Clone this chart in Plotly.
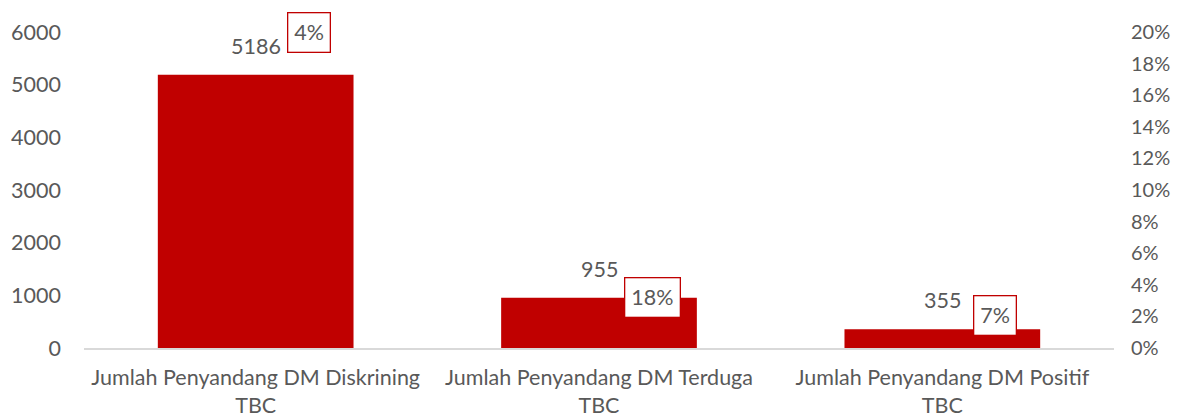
import plotly.graph_objects as go

categories = ["Jumlah Penyandang DM Diskrining<br>TBC",
              "Jumlah Penyandang DM Terduga<br>TBC",
              "Jumlah Penyandang DM Positif<br>TBC"]
counts = [5186, 955, 355]
percent_labels = ["4%", "18%", "7%"]
percent_values = [0.04, 0.18, 0.07]

# vertical placement of the boxed percentage labels (left-axis units)
pct_label_y = [5990, 950, 610]

RED = "#C00000"
GREY = "#595959"
FONT = "Lato"
FS = 21.5

fig = go.Figure()
fig.add_trace(go.Bar(x=categories, y=counts, marker=dict(color=RED, line=dict(width=0)),
                     width=0.57, showlegend=False, hoverinfo="skip"))
fig.add_trace(go.Scatter(x=categories, y=percent_values, yaxis="y2", mode="markers",
                         marker=dict(opacity=0), showlegend=False, hoverinfo="skip"))

annotations = []
for c, v in zip(categories, counts):
    annotations.append(dict(x=c, y=v, xref="x", yref="y", text=str(v), showarrow=False,
                            yshift=29, font=dict(family=FONT, size=FS, color=GREY)))
for c, t, yy in zip(categories, percent_labels, pct_label_y):
    annotations.append(dict(x=c, y=yy, xref="x", yref="y", text=t, showarrow=False,
                            xshift=53, bgcolor="white", bordercolor=RED, borderwidth=1.3,
                            borderpad=6, font=dict(family=FONT, size=FS, color=GREY)))

# the page body adds an 8px offset, so margins are reduced by 8 at left/top
fig.update_layout(
    width=1179, height=417,
    margin=dict(l=76, r=73, t=24, b=77, autoexpand=False),
    paper_bgcolor="white", plot_bgcolor="white",
    font=dict(family=FONT, size=FS, color=GREY),
    bargap=0.43,
    xaxis=dict(showline=True, linecolor="#D9D9D9", linewidth=1.5, ticks="",
               automargin=False, ticklabelstandoff=9,
               tickfont=dict(family=FONT, size=FS, color=GREY), showgrid=False),
    yaxis=dict(range=[0, 6000], dtick=1000, showgrid=False, zeroline=False,
               ticks="", ticklabelstandoff=22, automargin=False,
               tickfont=dict(family=FONT, size=FS, color=GREY)),
    yaxis2=dict(range=[0, 0.2], dtick=0.02, tickformat=".0%", overlaying="y", side="right",
                showgrid=False, zeroline=False, ticks="", ticklabelstandoff=16,
                automargin=False,
                tickfont=dict(family=FONT, size=20, color=GREY)),
    annotations=annotations,
)

fig.write_html("out.html")
